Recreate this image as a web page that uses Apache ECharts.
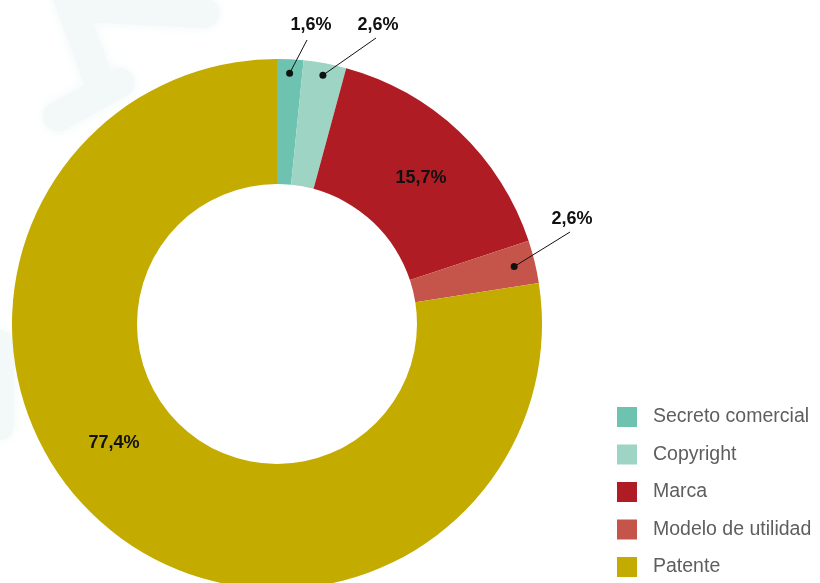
<!DOCTYPE html>
<html>
<head>
    <meta charset="UTF-8">
    <title>Donut</title>
    <script src="https://cdn.jsdelivr.net/npm/echarts@6/dist/echarts.min.js"></script>
</head>
<body style="margin:0;background:#fff;">
<div id="main" style="width:820px;height:583px;"></div>
<script type="text/javascript">
    var categories = ['Secreto comercial', 'Copyright', 'Marca', 'Modelo de utilidad', 'Patente'];
    var values = [1.6, 2.6, 15.7, 2.6, 77.4];
    var colors = ['#6dc3b0', '#9dd4c4', '#b01c24', '#c5554a', '#c4ab00'];

    var cx = 277, cy = 324, rIn = 140, rOut = 265;
    // label spots: [labelX, labelY, lineEndX, lineEndY, dotRadius] ; null line = inside label
    var spots = [
        [311, 25, 307, 40, 251],
        [378, 25, 376, 38, 253],
        [421, 178, null, null, 0],
        [572, 219, 570, 232, 244],
        [114, 443, null, null, 0]
    ];

    var total = values.reduce(function (a, b) { return a + b; }, 0);
    function midPoint(idx, r) {
        var before = 0;
        for (var i = 0; i < idx; i++) before += values[i];
        var ang = (before + values[idx] / 2) / total * Math.PI * 2;
        return [cx + r * Math.sin(ang), cy - r * Math.cos(ang)];
    }

    // faint background pattern
    var deco = [
        {type: 'rect', shape: {x: 50, y: -30, width: 30, height: 150, r: 15}, rotation: 0.35},
        {type: 'rect', shape: {x: 70, y: -12, width: 150, height: 30, r: 15}, rotation: -0.05},
        {type: 'rect', shape: {x: -20, y: 115, width: 100, height: 30, r: 15}, rotation: 0.5},
        {type: 'rect', shape: {x: -14, y: 330, width: 28, height: 110, r: 14}, rotation: 0}
    ].map(function (d) {
        d.style = {fill: '#f3f9f9', shadowBlur: 14, shadowColor: '#f3f9f9'};
        d.z = -10;
        d.silent = true;
        return d;
    });

    var marks = [];
    spots.forEach(function (s, i) {
        if (s[2] !== null) {
            var p = midPoint(i, s[4]);
            marks.push({
                type: 'line',
                shape: {x1: p[0], y1: p[1], x2: s[2], y2: s[3]},
                style: {stroke: '#111', lineWidth: 1},
                z: 100
            });
            marks.push({
                type: 'circle',
                shape: {cx: p[0], cy: p[1], r: 3.5},
                style: {fill: '#111'},
                z: 100
            });
        }
    });

    var chart = echarts.init(document.getElementById('main'), null, {renderer: 'canvas'});
    chart.setOption({
        animation: false,
        backgroundColor: '#fff',
        color: colors,
        legend: {
            orient: 'vertical',
            left: 617,
            top: 407,
            height: 176,
            padding: 0,
            itemWidth: 20,
            itemHeight: 20,
            itemGap: 17.5,
            icon: 'rect',
            textStyle: {
                fontFamily: 'Liberation Sans, Arial, sans-serif',
                fontSize: 19.5,
                color: '#5e5e5e',
                padding: [0, 0, 0, 11]
            },
            data: categories
        },
        graphic: deco.concat(marks),
        series: [{
            type: 'pie',
            center: [cx, cy],
            radius: [rIn, rOut],
            startAngle: 90,
            clockwise: true,
            avoidLabelOverlap: false,
            label: {
                show: true,
                position: 'outside',
                formatter: function (p) {
                    return String(p.value).replace('.', ',') + '%';
                },
                fontFamily: 'Liberation Sans, Arial, sans-serif',
                fontWeight: 'bold',
                fontSize: 18,
                color: '#111'
            },
            labelLine: {show: false},
            labelLayout: function (params) {
                var s = spots[params.dataIndex];
                return {x: s[0], y: s[1], align: 'center', verticalAlign: 'middle'};
            },
            itemStyle: {borderWidth: 0},
            data: categories.map(function (c, i) {
                return {name: c, value: values[i]};
            })
        }]
    });
</script>
</body>
</html>
